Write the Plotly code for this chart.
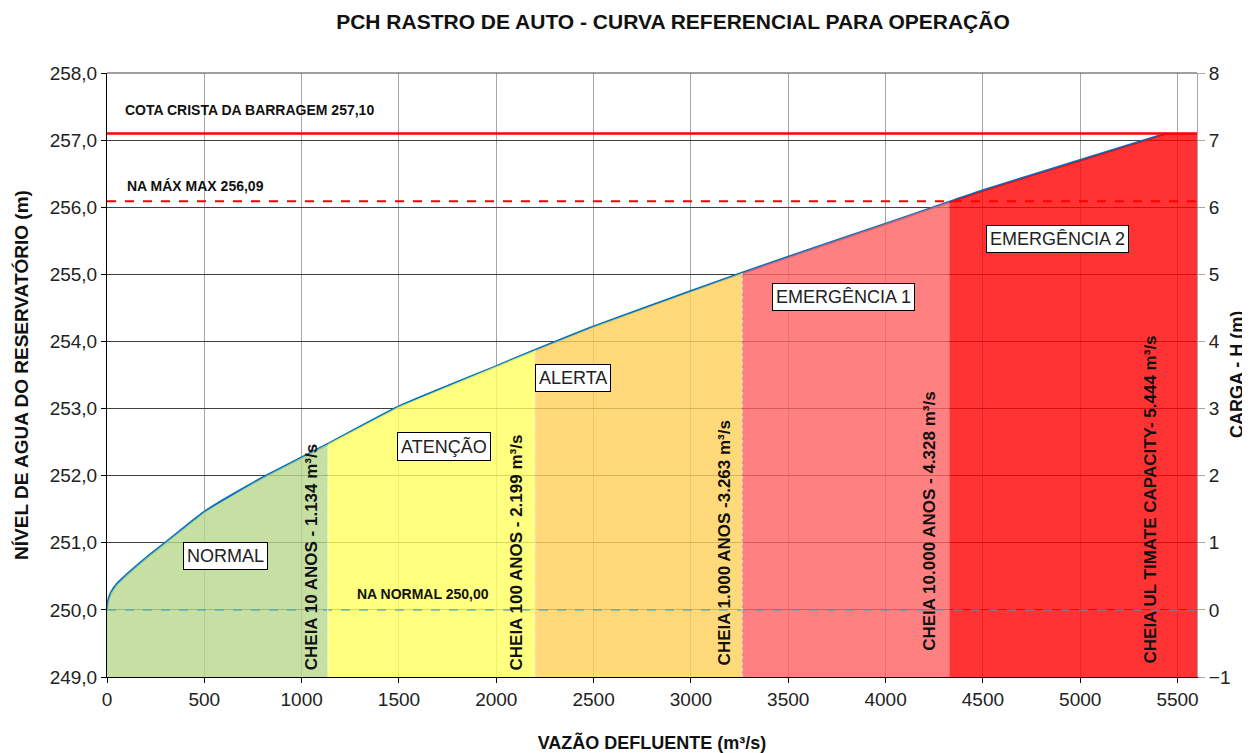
import plotly.graph_objects as go

# vazão defluente (m3/s) x nível d'água (m) - curva
vazao = [0, 5, 20, 50, 100, 200, 300, 500, 800, 1000, 1134, 1500, 2000, 2199,
         2500, 3000, 3263, 3500, 4000, 4328, 4500, 5000, 5444]
nivel = [250.0, 250.12, 250.25, 250.38, 250.52, 250.77, 251.0, 251.46, 251.97, 252.27,
         252.47, 253.03, 253.63, 253.87, 254.22, 254.75, 255.02, 255.26, 255.75, 256.08,
         256.25, 256.7, 257.1]

# limites das faixas de operação
faixas = ["NORMAL", "ATENÇÃO", "ALERTA", "EMERGÊNCIA 1", "EMERGÊNCIA 2"]
limites = [0, 1134, 2199, 3263, 4328, 5600]
cores = ["rgba(184,216,141,0.8)", "rgba(255,255,96,0.8)", "rgba(255,208,89,0.8)",
         "rgba(255,96,96,0.8)", "rgba(255,0,0,0.8)"]
rotulos_faixa = [(608, 250.8), (1733, 252.43), (2392, 253.46), (3783, 254.66), (4884, 255.53)]

# cheias de referência
cheias = ["CHEIA 10 ANOS - 1.134 m³/s", "CHEIA 100 ANOS - 2.199 m³/s",
          "CHEIA 1.000 ANOS -3.263 m³/s", "CHEIA 10.000 ANOS - 4.328 m³/s",
          "CHEIA UL TIMATE CAPACITY- 5.444 m³/s"]
cheias_pos = [(1050, 250.79), (2103, 250.86), (3173, 251.0), (4226, 251.32), (5362, 251.64)]

na_normal = 250.00
na_max = 256.09
crista = 257.10
q_max = 5600
y_min = 249.0

FONT = "Liberation Sans, Arial, sans-serif"

fig = go.Figure()

# curva referencial
fig.add_trace(go.Scatter(x=vazao, y=nivel, mode="lines", line_shape="spline",
                         line=dict(color="#0070C0", width=2.5, smoothing=0.6), hoverinfo="skip"))

# faixas preenchidas sob a curva
for i, nome in enumerate(faixas):
    a, b = limites[i], limites[i + 1]
    xs = [q for q in vazao if a <= q <= b]
    ys = [h for q, h in zip(vazao, nivel) if a <= q <= b]
    if b > vazao[-1]:
        xs.append(b)
        ys.append(crista)
    px_ = [a] + xs + [b, a]
    py_ = [y_min] + ys + [y_min, y_min]
    fig.add_trace(go.Scatter(x=px_, y=py_, mode="lines", fill="toself",
                             fillcolor=cores[i], line=dict(width=0),
                             hoverinfo="skip", name=nome))

# NA normal
fig.add_trace(go.Scatter(x=[0, q_max], y=[na_normal, na_normal], mode="lines",
                         line=dict(color="rgba(60,160,190,0.55)", width=2, dash="dash"),
                         hoverinfo="skip"))

# divisões entre faixas
for q, h in zip(vazao, nivel):
    if q in limites[1:4]:
        fig.add_trace(go.Scatter(x=[q, q], y=[y_min, h], mode="lines",
                                 line=dict(color="rgba(235,235,235,0.9)", width=1.2, dash="dot"),
                                 hoverinfo="skip"))

# cota da crista e NA máx max
fig.add_trace(go.Scatter(x=[0, q_max], y=[crista, crista], mode="lines",
                         line=dict(color="#FF0000", width=2.5), hoverinfo="skip"))
fig.add_trace(go.Scatter(x=[0, q_max], y=[na_max, na_max], mode="lines",
                         line=dict(color="#FF0000", width=2, dash="dash"), hoverinfo="skip"))

# eixo secundário (carga H)
fig.add_trace(go.Scatter(x=vazao, y=[h - na_normal for h in nivel], yaxis="y2",
                         mode="lines", line=dict(width=0), opacity=0, hoverinfo="skip"))

for nome, (x, y) in zip(faixas, rotulos_faixa):
    fig.add_annotation(x=x, y=y, text=nome, showarrow=False,
                       font=dict(family=FONT, size=18, color="#222222"),
                       bgcolor="white", bordercolor="black", borderwidth=1, borderpad=3)

for txt, (x, y) in zip(cheias, cheias_pos):
    fig.add_annotation(x=x, y=y, text="<b>" + txt + "</b>", showarrow=False, textangle=-90,
                       font=dict(family=FONT, size=17, color="#111111"))

fig.add_annotation(x=80, y=257.45, text="<b>COTA CRISTA DA BARRAGEM 257,10</b>", showarrow=False,
                   xanchor="left", font=dict(family=FONT, size=14, color="#111111"))
fig.add_annotation(x=90, y=256.32, text="<b>NA MÁX MAX 256,09</b>", showarrow=False,
                   xanchor="left", font=dict(family=FONT, size=14, color="#111111"))
fig.add_annotation(x=1621, y=250.24, text="<b>NA NORMAL 250,00</b>", showarrow=False,
                   font=dict(family=FONT, size=14, color="#111111"))

# título do eixo secundário
fig.add_annotation(xref="paper", yref="paper", x=1.0367, y=0.5, text="<b>CARGA - H (m)</b>",
                   showarrow=False, textangle=-90, xanchor="center", yanchor="middle",
                   font=dict(family=FONT, size=18, color="#111111"))

fig.update_layout(
    width=1250, height=753,
    paper_bgcolor="white", plot_bgcolor="white",
    showlegend=False,
    separators=",.",
    font=dict(family=FONT, color="#222222"),
    margin=dict(l=99, r=61, t=65, b=84),
    title=dict(text="<b>PCH RASTRO DE AUTO - CURVA REFERENCIAL PARA OPERAÇÃO</b>",
               x=0.532, xanchor="center", y=0.982, yanchor="middle",
               font=dict(family=FONT, size=21, color="#111111")),
    xaxis=dict(range=[0, q_max], dtick=500, tickformat="d", automargin=False,
               showgrid=True, gridcolor="#A6A6A6", gridwidth=1,
               showline=True, linecolor="black", linewidth=1, mirror=False,
               ticks="outside", ticklen=5, tickcolor="black", zeroline=False,
               tickfont=dict(family=FONT, size=19, color="#222222"),
               title=dict(text="<b>VAZÃO DEFLUENTE (m³/s)</b>", standoff=27,
                          font=dict(family=FONT, size=18, color="#111111"))),
    yaxis=dict(range=[y_min, 258], dtick=1, tickformat=".1f", automargin=False,
               showgrid=True, gridcolor="#404040", gridwidth=1,
               showline=True, linecolor="black", linewidth=1,
               ticks="outside", ticklen=5, tickcolor="black", zeroline=False,
               tickfont=dict(family=FONT, size=19, color="#222222"),
               title=dict(text="<b>NÍVEL DE AGUA DO RESERVATÓRIO (m)</b>", standoff=16,
                          font=dict(family=FONT, size=19, color="#111111"))),
    yaxis2=dict(range=[-1, 8], dtick=1, overlaying="y", side="right", automargin=False,
                showgrid=False, showline=True, linecolor="#A6A6A6", linewidth=1,
                ticks="outside", ticklen=7, tickcolor="#A6A6A6", zeroline=False,
                tickfont=dict(family=FONT, size=19, color="#222222")),
)

# borda superior do gráfico
fig.add_shape(type="line", xref="paper", yref="paper", x0=0, x1=1, y0=1, y1=1,
              line=dict(color="#404040", width=1))

fig.write_html("out.html")
